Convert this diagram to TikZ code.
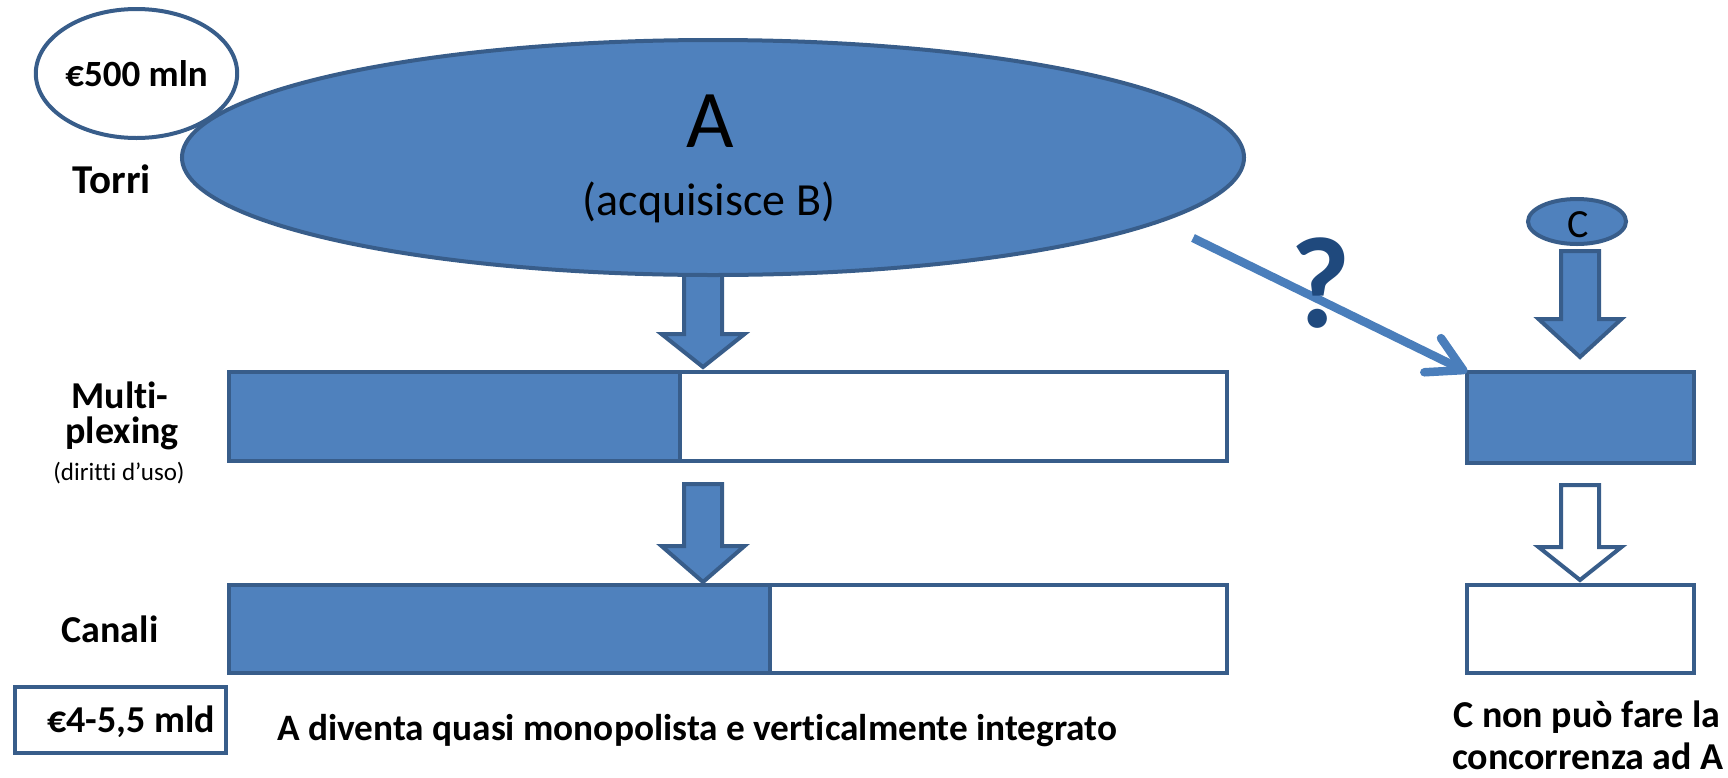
\documentclass[tikz,border=0pt]{standalone}
\usepackage{fontspec}
\setmainfont{Carlito}[Ligatures=NoCommon]
\usetikzlibrary{shapes.geometric,arrows.meta}
\definecolor{boxfill}{HTML}{4F81BD}
\definecolor{boxline}{HTML}{385D8A}
\definecolor{linkblue}{HTML}{4A7EBB}
\definecolor{qblue}{HTML}{1F497D}
\newcommand\fs[1]{\fontsize{#1}{#1}\selectfont}
% block arrow pointing down: style, centre x, shaft top, head top, tip
\newcommand\blkarrow[5]{%
  \draw[#1] ({#2-19},#3) -- ({#2+19},#3) -- ({#2+19},#4) -- ({#2+41.5},#4)
    -- (#2,#5) -- ({#2-41.5},#4) -- ({#2-19},#4) -- cycle;}
\tikzset{
  shape line/.style={draw=boxline, line width=4pt, outer sep=0pt, inner sep=0pt},
  solid part/.style={shape line, fill=boxfill},
  empty part/.style={shape line, fill=white},
  bar/.style={rectangle, anchor=north west},
  lbl/.style={inner sep=0pt, anchor=base, font=\bfseries\fs{38}},
  qlink/.style={draw=linkblue, line width=8.5pt,
    -{Straight Barb[round, length=34pt, width=38pt]}},
}
\begin{document}
\begin{tikzpicture}[x=1pt, y=-1pt]
\useasboundingbox (0,0) rectangle (1728,777);

% tower level: company A
\blkarrow{solid part}{703}{272}{334}{367}
\node[ellipse, solid part, minimum width=1062pt, minimum height=235pt] (aell) at (713,157.5) {};
\node[inner sep=0pt, anchor=base, font=\fs{82}] (aname) at (710,147) {A};
\node[inner sep=0pt, anchor=base, font=\fs{46}] (asub) at (709,215) {(acquisisce B)};

\node[ellipse, empty part, minimum width=183pt, minimum height=129pt, font=\bfseries\fs{37}] (tval) at (136.5,73.5) {€500 mln};
\node[lbl, font=\bfseries\fs{41}] (torri) at (112,193) {Torri};

% multiplexing level
\node[bar, solid part, minimum width=451pt, minimum height=89pt] (muxA) at (229,372) {};
\node[bar, empty part, minimum width=547pt, minimum height=89pt] (muxB) at (680,372) {};
\node[lbl] (mux1) at (120,408) {Multi-};
\node[lbl] (mux2) at (122,443) {plexing};
\node[inner sep=0pt, anchor=base, font=\fs{25}] (mux3) at (119,480) {(diritti d’uso)};

\blkarrow{solid part}{703}{484}{546}{582}

% channel level
\node[bar, solid part, minimum width=541pt, minimum height=88pt] (canA) at (229,585) {};
\node[bar, empty part, minimum width=457pt, minimum height=88pt] (canB) at (770,585) {};
\node[lbl] (canali) at (110,642) {Canali};

\node[bar, empty part, minimum width=211pt, minimum height=66pt] (cval) at (15,687) {};
\node[lbl] (cvaltxt) at (131,732) {€4-5,5 mld};
\node[lbl, anchor=base west, font=\bfseries\fs{37.3}] (concl) at (277,740) {A diventa quasi monopolista e verticalmente integrato};

% competitor C
\node[ellipse, solid part, minimum width=98pt, minimum height=45pt] (cell) at (1577,221.5) {};
\node[inner sep=0pt, anchor=base, font=\fs{40}] (cname) at (1578,237) {C};
\blkarrow{solid part}{1580}{251}{319}{357}
\node[bar, solid part, minimum width=227pt, minimum height=91pt] (cbox) at (1467,372) {};
\blkarrow{empty part}{1580}{485}{547}{580}
\node[bar, empty part, minimum width=227pt, minimum height=88pt] (cout) at (1467,585) {};
\node[lbl] (cnote1) at (1587,727) {C non può fare la};
\node[lbl] (cnote2) at (1588,769) {concorrenza ad A};

% uncertain access of C to multiplexing
\coordinate (qstart) at (1193,238);
\draw[qlink] (qstart) -- (cbox.north west);
\node[inner sep=0pt, anchor=base, text=qblue, font=\bfseries\fs{130}] (qmark) at (1321,327) {?};
\end{tikzpicture}
\end{document}
